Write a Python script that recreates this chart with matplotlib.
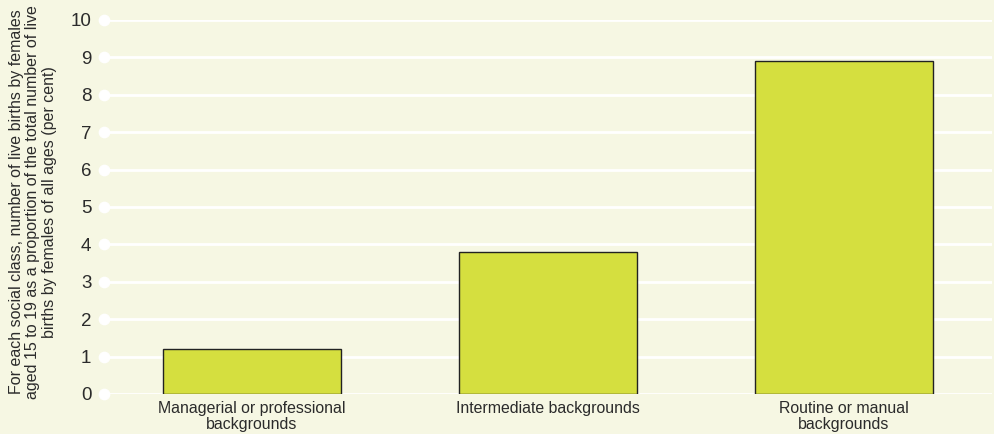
import matplotlib
matplotlib.use("Agg")
import matplotlib.pyplot as plt
import numpy as np

categories = ["Managerial or professional\nbackgrounds", "Intermediate backgrounds", "Routine or manual\nbackgrounds"]
values = [1.2, 3.8, 8.9]
yticks = list(range(0, 11))

plt.rcParams['font.family'] = ['Liberation Sans', 'DejaVu Sans']
bg = '#f6f7e3'
txt = '#2b2b2b'
fig = plt.figure(figsize=(9.95, 4.34), dpi=100, facecolor=bg)
ax = fig.add_axes([0.1045, 0.0922, 0.8925, 0.862])
ax.set_facecolor(bg)

x = np.arange(len(categories))
ax.set_xlim(-0.5, 2.5)
ax.set_ylim(0, 10)
for t in yticks:
    ax.axhline(t, color='white', lw=2.0, zorder=1)
ax.scatter([-0.5] * len(yticks), yticks, s=55, color='white', zorder=2, clip_on=False)
ax.bar(x, values, width=0.6, color='#d5df3f', edgecolor='#222222', linewidth=1.0, zorder=3)

ax.set_xticks(x)
ax.set_xticklabels(categories, fontsize=11.4, color=txt, linespacing=1.1)
ax.set_yticks(yticks)
ax.set_yticklabels([str(t) for t in yticks], fontsize=13.5, color=txt)
ax.tick_params(axis='both', length=0)
ax.tick_params(axis='y', pad=9)
ax.tick_params(axis='x', pad=5)
for s in ax.spines.values():
    s.set_visible(False)

fig.text(0.033, 0.535, "For each social class, number of live births by females\naged 15 to 19 as a proportion of the total number of live\nbirths by females of all ages (per cent)",
         rotation=90, ha='center', va='center', fontsize=11.5, color=txt, linespacing=1.12)

fig.savefig("out.png", dpi=100, facecolor=bg)
